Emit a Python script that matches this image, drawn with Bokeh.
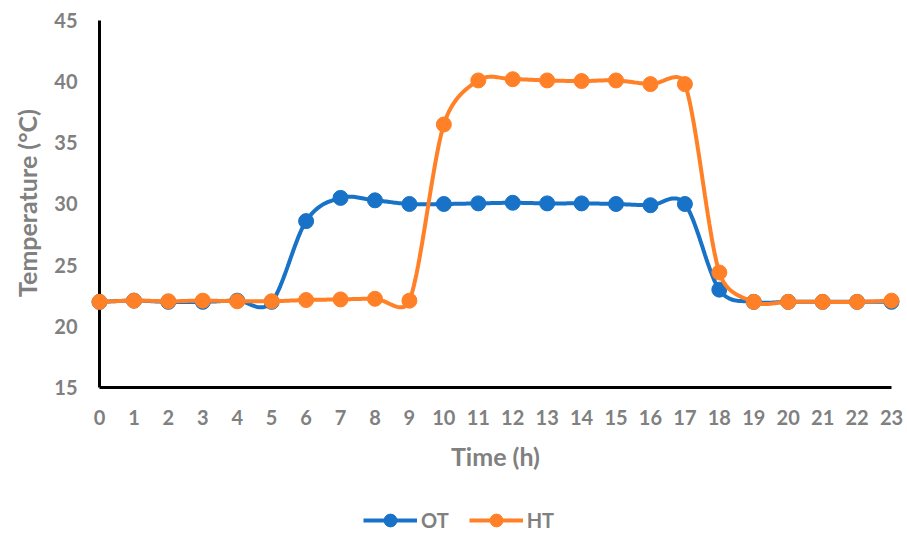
import numpy as np
from bokeh.plotting import figure
from bokeh.layouts import column
from bokeh.models import Range1d, FixedTicker, Legend, LegendItem
from bokeh.embed import file_html
from bokeh.resources import INLINE

# Hourly temperature readings
hours = list(range(24))
ot_temp = [22.0, 22.1, 22.0, 22.0, 22.1, 22.0, 28.6, 30.5, 30.3, 30.0, 30.0, 30.05,
           30.1, 30.05, 30.05, 30.0, 29.9, 30.0, 23.0, 22.0, 22.0, 22.0, 22.0, 22.0]
ht_temp = [22.0, 22.1, 22.05, 22.1, 22.05, 22.05, 22.15, 22.2, 22.25, 22.1, 36.5, 40.1,
           40.2, 40.1, 40.05, 40.1, 39.8, 39.8, 24.4, 22.0, 22.0, 22.0, 22.0, 22.1]
y_ticks = [15, 20, 25, 30, 35, 40, 45]
series = [("OT", ot_temp, "#1772c8"), ("HT", ht_temp, "#ff8026")]

GREY = "#808080"
FONT = "Lato"

# pixels per data unit, used so the curve smoothing is done in screen proportions
PX_X = 34.435
PX_Y = 12.233


def smooth(xs, ys, n=24):
    """Bezier curve through the points with tangents limited to half a segment."""
    X = np.asarray(xs, float) * PX_X
    Y = np.asarray(ys, float) * PX_Y
    P = np.stack([X, Y], axis=1)
    m = len(P)
    tang = np.zeros_like(P)
    for i in range(m):
        a = P[max(i - 1, 0)]
        b = P[min(i + 1, m - 1)]
        tang[i] = (b - a) / 6
    out = []
    t = np.linspace(0, 1, n, endpoint=False)[:, None]
    for i in range(m - 1):
        p1, p2 = P[i], P[i + 1]
        seg = np.hypot(*(p2 - p1))
        d1, d2 = tang[i].copy(), tang[i + 1].copy()
        for d in (d1, d2):
            L = np.hypot(*d)
            if L > seg / 2:
                d *= (seg / 2) / L
        c1 = p1 + d1
        c2 = p2 - d2
        pts = ((1 - t) ** 3) * p1 + 3 * ((1 - t) ** 2) * t * c1 + 3 * (1 - t) * t ** 2 * c2 + t ** 3 * p2
        out.append(pts)
    out.append(P[-1:])
    out = np.vstack(out)
    return out[:, 0] / PX_X, out[:, 1] / PX_Y


p = figure(width=907, height=490, output_backend="svg", toolbar_location=None,
           x_range=Range1d(-0.3194, 23.3194), y_range=Range1d(14.346, 45.817),
           min_border_left=88, min_border_right=5, min_border_top=10, min_border_bottom=95)
p.outline_line_color = None
p.grid.visible = False
p.background_fill_color = "white"
p.border_fill_color = "white"

# axis lines drawn in data space so the end markers are not cut off
p.segment(x0=[0, 0], y0=[15, 15], x1=[0, 23], y1=[45, 15], line_color="black", line_width=3)

for ax in (p.xaxis[0], p.yaxis[0]):
    ax.axis_line_color = None
    ax.major_tick_line_color = None
    ax.minor_tick_line_color = None
    ax.major_tick_out = 0
    ax.major_tick_in = 0
    ax.major_label_text_font = FONT
    ax.major_label_text_font_style = "bold"
    ax.major_label_text_font_size = "20px"
    ax.major_label_text_color = GREY
    ax.axis_label_text_font = FONT
    ax.axis_label_text_font_style = "bold"
    ax.axis_label_text_font_size = "25px"
    ax.axis_label_text_color = GREY

p.xaxis.ticker = FixedTicker(ticks=hours)
p.yaxis.ticker = FixedTicker(ticks=y_ticks)
p.xaxis.axis_label = "Time (h)"
p.yaxis.axis_label = "Temperature (°C)"
p.xaxis.major_label_standoff = 14
p.yaxis.major_label_standoff = 11
p.xaxis.axis_label_standoff = 13
p.yaxis.axis_label_standoff = 9

for name, vals, col in series:
    sx, sy = smooth(hours, vals)
    p.line(sx, sy, line_color=col, line_width=4)
    p.scatter(hours, vals, size=15, fill_color=col, line_color=col)

# legend strip underneath the chart; its ranges keep the series themselves out of view
lg = figure(width=907, height=48, output_backend="svg", toolbar_location=None,
            x_range=Range1d(0, 1), y_range=Range1d(-2, -1),
            min_border_left=0, min_border_right=0, min_border_top=0, min_border_bottom=0)
lg.axis.visible = False
lg.grid.visible = False
lg.outline_line_color = None
items = []
for name, vals, col in series:
    ln = lg.line(hours, vals, line_color=col, line_width=4)
    mk = lg.scatter(hours, vals, size=15, fill_color=col, line_color=col)
    items.append(LegendItem(label=name, renderers=[ln, mk]))
legend = Legend(items=items, orientation="horizontal", location=(275, 2),
                border_line_color=None, background_fill_alpha=0,
                label_text_font=FONT, label_text_font_style="bold",
                label_text_font_size="20px", label_text_color=GREY,
                glyph_width=54, glyph_height=32, spacing=20, margin=0, padding=0,
                label_standoff=4)
lg.add_layout(legend)

layout = column(p, lg, spacing=0)
open("out.html", "w").write(file_html(layout, INLINE))
